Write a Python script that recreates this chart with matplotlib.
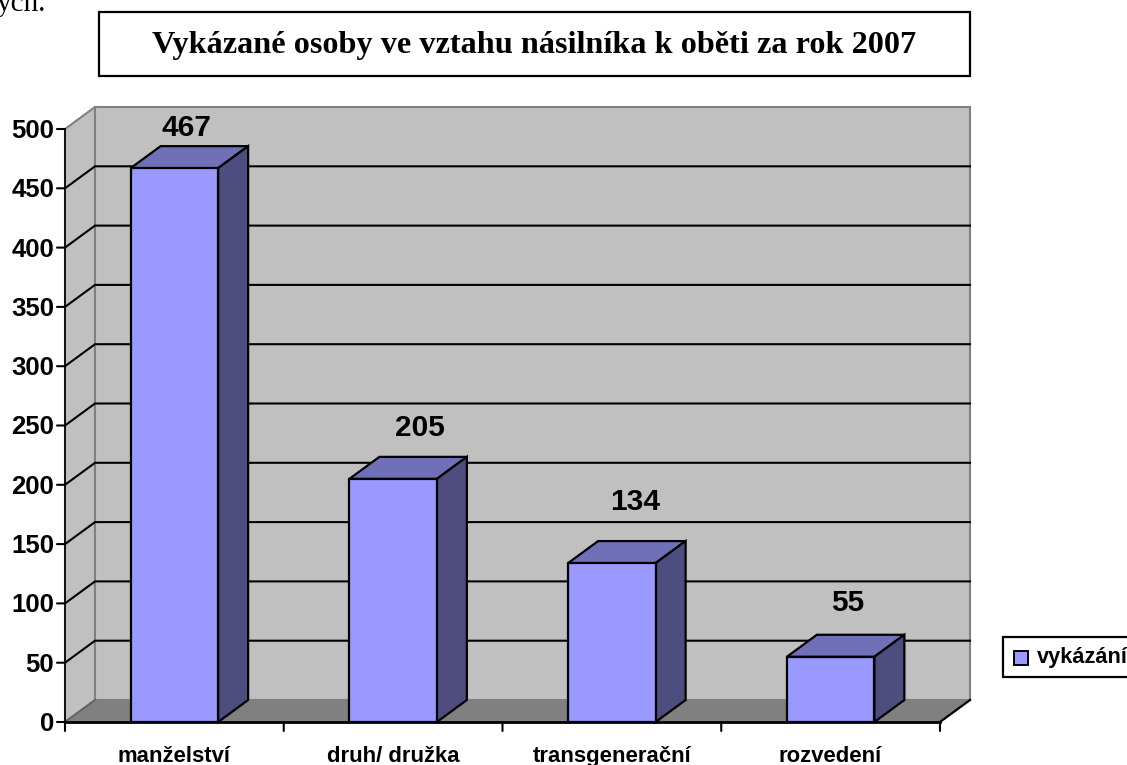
import matplotlib
matplotlib.use("Agg")
import matplotlib.pyplot as plt
from matplotlib.patches import Polygon, Rectangle

categories = ["manželství", "druh/ družka", "transgenerační", "rozvedení"]
values = [467, 205, 134, 55]
y_ticks = [0, 50, 100, 150, 200, 250, 300, 350, 400, 450, 500]
title = "Vykázané osoby ve vztahu násilníka k oběti za rok 2007"
series_name = "vykázání"

WALL = "#C0C0C0"
FLOOR = "#808080"
FRONT = "#9999FF"
TOP = "#7070B8"
SIDE = "#4D4D80"

# the value labels were placed by hand in the original, so each has its own nudge
label_nudge = [(12, -11), (27, 0), (23, 10), (17, 3)]

W, H = 1127, 765
fig = plt.figure(figsize=(W / 100, H / 100), dpi=100)
plt.rcParams["font.family"] = "Liberation Sans"

# pixel overlay for things outside of the plot
over = fig.add_axes([0, 0, 1, 1])
over.set_xlim(0, W)
over.set_ylim(H, 0)
over.axis("off")

ax = fig.add_axes([65 / W, (H - 722) / H, 875 / W, 593 / H])
ax.set_xlim(0, 4)
ax.set_ylim(0, 500)
ax.axis("off")

# 3d depth in data units
dx = 30 / (875 / 4)
dy = 22 / (593 / 500)
bar_w = 0.4


def poly(pts, fc, ec="black", lw=1.6, z=2):
    ax.add_patch(Polygon(pts, closed=True, facecolor=fc, edgecolor=ec, linewidth=lw,
                         zorder=z, clip_on=False, joinstyle="miter"))


# walls and floor
poly([(0, 0), (dx, dy), (dx, 500 + dy), (0, 500)], WALL, ec="#808080", lw=1.5, z=1)
poly([(dx, dy), (4 + dx, dy), (4 + dx, 500 + dy), (dx, 500 + dy)], WALL, ec="#808080", lw=1.5, z=1)
poly([(0, 0), (4, 0), (4 + dx, dy), (dx, dy)], FLOOR, ec="none", lw=0, z=1.2)
ax.plot([0, dx], [0, dy], color="#606060", lw=1.2, zorder=1.3, clip_on=False)
ax.plot([4, 4 + dx], [0, dy], color="black", lw=1.6, zorder=1.3, clip_on=False)

# grid lines run along the side wall then the back wall
for t in y_ticks[1:-1]:
    ax.plot([0, dx, 4 + dx], [t, t + dy, t + dy], color="black", lw=1.5, zorder=1.5,
            clip_on=False, solid_joinstyle="miter")

# bars
for i, v in enumerate(values):
    x0 = i + 0.5 - bar_w / 2
    x1 = x0 + bar_w
    poly([(x0, v), (x1, v), (x1 + dx, v + dy), (x0 + dx, v + dy)], TOP, z=3)
    poly([(x1, 0), (x1 + dx, dy), (x1 + dx, v + dy), (x1, v)], SIDE, z=3)
    ax.bar(i + 0.5, v, width=bar_w, color=FRONT, edgecolor="black", linewidth=1.6, zorder=4, clip_on=False)
    nx, ny = label_nudge[i]
    ax.annotate(str(v), (i + 0.5, v + dy), xytext=(nx, 15 + ny), textcoords="offset pixels",
                ha="center", va="bottom", fontsize=21.5, fontweight="bold", zorder=5)

# axes lines and ticks
ax.plot([0, 0], [0, 500], color="black", lw=1.2, zorder=1.6, clip_on=False)
ax.plot([0, 4], [0, 0], color="black", lw=2, zorder=3.5, clip_on=False)
for t in y_ticks:
    ax.annotate("", (0, t), xytext=(-8, 0), textcoords="offset pixels",
                arrowprops=dict(arrowstyle="-", color="black", lw=1.5, shrinkA=0, shrinkB=0))
    ax.annotate(str(t), (0, t), xytext=(-11, -2), textcoords="offset pixels", ha="right",
                va="center", fontsize=18.5, fontweight="bold")
for k in range(5):
    ax.annotate("", (k, 0), xytext=(0, -9), textcoords="offset pixels",
                arrowprops=dict(arrowstyle="-", color="black", lw=1.5, shrinkA=0, shrinkB=0))
for i, c in enumerate(categories):
    ax.annotate(c, (i + 0.5, 0), xytext=(0, -24), textcoords="offset pixels", ha="center",
                va="top", fontsize=15.9, fontweight="bold")

# title box
over.add_patch(Rectangle((99, 12), 871, 64, facecolor="white", edgecolor="black", linewidth=1.6))
over.text(534.5, 45, title, ha="center", va="center", fontsize=23.2, fontweight="bold",
          family="Liberation Serif")
over.text(-3, 11, "ych.", ha="left", va="baseline", fontsize=21, family="Liberation Serif")

# legend box
over.add_patch(Rectangle((1003, 637), 130, 40, facecolor="white", edgecolor="black", linewidth=1.6))
over.add_patch(Rectangle((1014, 651), 14, 14, facecolor=FRONT, edgecolor="black", linewidth=1.4))
over.text(1037, 657, series_name, ha="left", va="center", fontsize=15.7, fontweight="bold")

fig.savefig("out.png", dpi=100)
